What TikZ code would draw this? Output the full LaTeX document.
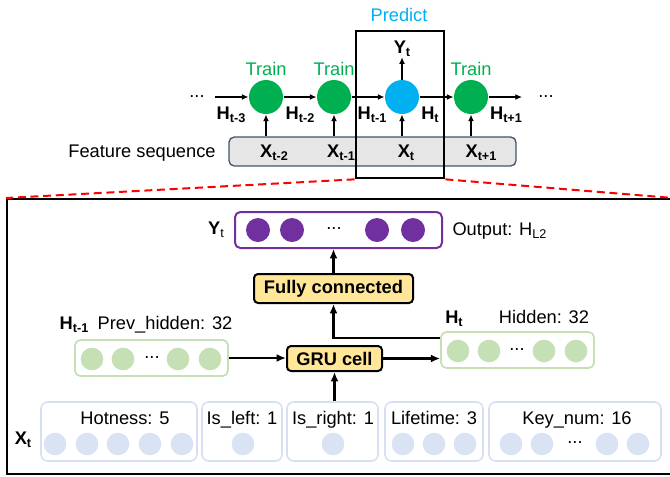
\documentclass[tikz,border=0pt]{standalone}
\usepackage{fontspec}
\setmainfont{Liberation Sans}
\usetikzlibrary{arrows.meta}

\definecolor{trainGreen}{RGB}{0,176,80}
\definecolor{predBlue}{RGB}{0,176,240}
\definecolor{outPurple}{RGB}{112,48,160}
\definecolor{hidGreen}{RGB}{197,224,180}
\definecolor{hidLine}{RGB}{197,224,180}
\definecolor{featBlue}{RGB}{218,227,243}
\definecolor{featLine}{RGB}{214,224,242}
\definecolor{opGold}{RGB}{255,230,153}
\definecolor{seqGray}{RGB}{231,230,230}
\definecolor{seqLine}{RGB}{68,84,106}

\newcommand{\bsub}[2]{\textbf{#1\raisebox{-2.7pt}{\fontsize{9.5}{10}\selectfont #2}}}
\newcommand{\nsub}[2]{#1\raisebox{-2.7pt}{\fontsize{9.5}{10}\selectfont #2}}

\tikzset{every picture/.style={line width=0.75pt},
	every node/.style={font=\fontsize{13.7}{16}\selectfont},
	txt/.style={anchor=base, inner sep=0pt},
	bigdot/.style={circle, minimum size=25.5pt, inner sep=0pt},
	trainnode/.style={bigdot, fill=trainGreen},
	predictnode/.style={bigdot, fill=predBlue},
	thinarrow/.style={line width=1pt, -{Latex[length=5pt,width=4.5pt]}},
	thickarrow/.style={line width=1.6pt, -{Latex[length=7pt,width=6pt]}},
	unit/.style={circle, minimum size=17pt, inner sep=0pt},
	outunit/.style={circle, minimum size=18pt, inner sep=0pt, fill=outPurple},
	hidunit/.style={unit, fill=hidGreen},
	featunit/.style={unit, fill=featBlue},
	layerbox/.style={rectangle, rounded corners=4pt, line width=1.3pt, minimum height=27pt, inner sep=0pt},
	opbox/.style={rectangle, rounded corners=3pt, draw=black, line width=1.5pt, fill=opGold, inner sep=0pt, font=\bfseries\fontsize{13.7}{16}\selectfont},
	featbox/.style={rectangle, rounded corners=5pt, draw=featLine, line width=1.2pt, minimum height=44.25pt, inner sep=0pt},
	zoomline/.style={red, line width=1.5pt, dash pattern=on 6pt off 3.5pt}}

\begin{document}
\begin{tikzpicture}[x=0.75pt,y=0.75pt,yscale=-1,xscale=1]
	\useasboundingbox (0,0) rectangle (670,476);

	%Shape: Rectangle (zoomed cell)
	\node[rectangle, draw=black, line width=1.5pt, minimum width=498.75pt, minimum height=206.25pt, inner sep=0pt] (main) at (339.5,336.5) {};

	%Shape: Rectangle (feature sequence)
	\node[rectangle, rounded corners=4pt, draw=seqLine, fill=seqGray, line width=1pt, minimum width=215.25pt, minimum height=21.75pt, inner sep=0pt] (seq) at (372.5,151.5) {};
	\node[txt] (seqlbl) at (142,157) {Feature sequence};

	%Shape: Circle (time steps)
	\node[trainnode] (c1) at (266,97) {};
	\node[trainnode] (c2) at (334,97) {};
	\node[predictnode] (c3) at (402,97) {};
	\node[trainnode] (c4) at (471,97) {};
	\node[txt, text=trainGreen] (tr1) at (266,75) {Train};
	\node[txt, text=trainGreen] (tr2) at (334,75) {Train};
	\node[txt, text=trainGreen] (tr4) at (471,75) {Train};
	\node[txt, text=predBlue] (prd) at (399,21) {Predict};

	%Shape: Rectangle (predict step)
	\node[rectangle, draw=black, line width=2pt, minimum width=66pt, minimum height=110.25pt, inner sep=0pt] (pred) at (400,104.5) {};

	%Straight Lines (hidden states)
	\node (dl) at (197,97) {...};
	\node (dr) at (546,97) {...};
	\coordinate (hl) at (215,97);
	\coordinate (hr) at (522,97);
	\draw[thinarrow] (hl) -- (c1);
	\draw[thinarrow] (c1) -- (c2);
	\draw[thinarrow] (c2) -- (c3);
	\draw[thinarrow] (c3) -- (c4);
	\draw[thinarrow] (c4) -- (hr);
	\draw[thinarrow] (c1 |- seq.north) -- (c1);
	\draw[thinarrow] (c2 |- seq.north) -- (c2);
	\draw[thinarrow] (c3 |- seq.north) -- (c3);
	\draw[thinarrow] (c4 |- seq.north) -- (c4);

	% Text Node
	\node[txt] (yt) at (402,53) {\bsub{Y}{t}};
	\draw[thinarrow] (c3.north) -- (c3.north |- yt.south);
	\node[txt] (h3) at (231,119) {\bsub{H}{t-3}};
	\node[txt] (h2) at (300,119) {\bsub{H}{t-2}};
	\node[txt] (h1) at (372,119) {\bsub{H}{t-1}};
	\node[txt] (h0) at (430,119) {\bsub{H}{t}};
	\node[txt] (h4) at (506,119) {\bsub{H}{t+1}};
	\node[txt] (x2) at (274,157) {\bsub{X}{t-2}};
	\node[txt] (x1) at (341,157) {\bsub{X}{t-1}};
	\node[txt] (x0) at (406,157) {\bsub{X}{t}};
	\node[txt] (x4) at (481,157) {\bsub{X}{t+1}};

	%Dashed Lines (zoom)
	\draw[zoomline] (pred.south west) -- (main.north west);
	\draw[zoomline] (pred.south east) -- (main.north east);

	%Shape: Output layer
	\node[layerbox, draw=outPurple, line width=1.5pt, minimum width=155.25pt] (outbox) at (338.5,230) {};
	\node[outunit] (o1) at (258,230) {};
	\node[outunit] (o2) at (292,230) {};
	\node (od) at (334,229) {...};
	\node[outunit] (o3) at (377,230) {};
	\node[outunit] (o4) at (413,230) {};
	\node[txt] (ylbl) at (216,234) {\nsub{\textbf{Y}}{t}};
	\node[txt, anchor=base west] (outlbl) at (452,235) {Output: \nsub{H}{L2}};

	%Shape: Operations
	\node[opbox, minimum width=119.25pt, minimum height=21.75pt] (fc) at (333.5,288.5) {Fully connected};
	\node[opbox, minimum width=71.25pt, minimum height=18.75pt] (gru) at (334.5,358.5) {GRU cell};

	%Shape: Previous hidden
	\node[layerbox, draw=hidLine, minimum width=114.75pt] (prevbox) at (151.5,358) {};
	\node[hidunit] (p1) at (92,359) {};
	\node[hidunit] (p2) at (123,359) {};
	\node (pd) at (152,358) {...};
	\node[hidunit] (p3) at (178,359) {};
	\node[hidunit] (p4) at (210,359) {};
	\node[txt] (hprev) at (74,329) {\bsub{H}{t-1}};
	\node[txt] (prevlbl) at (165,329) {Prev\_hidden: 32};

	%Shape: Hidden
	\node[layerbox, draw=hidLine, minimum width=114.75pt] (hidbox) at (517.5,350) {};
	\node[hidunit] (n1) at (458,351) {};
	\node[hidunit] (n2) at (489,351) {};
	\node (nd) at (517,350) {...};
	\node[hidunit] (n3) at (544,351) {};
	\node[hidunit] (n4) at (576,351) {};
	\node[txt] (hcur) at (454,323) {\bsub{H}{t}};
	\node[txt] (hidlbl) at (544,323) {Hidden: 32};

	%Shape: Input features
	\node[featbox, minimum width=117pt] (hotbox) at (119,431.5) {};
	\node[featbox, minimum width=60pt] (leftbox) at (242,431.5) {};
	\node[featbox, minimum width=68.25pt] (rightbox) at (332.5,431.5) {};
	\node[featbox, minimum width=73.5pt] (lifebox) at (434,431.5) {};
	\node[featbox, minimum width=129pt] (keybox) at (575,431.5) {};
	\node[txt] (hotlbl) at (125,424) {Hotness: 5};
	\node[txt] (leftlbl) at (242,424) {Is\_left: 1};
	\node[txt] (rightlbl) at (333,424) {Is\_right: 1};
	\node[txt] (lifelbl) at (434,424) {Lifetime: 3};
	\node[txt] (keylbl) at (577,424) {Key\_num: 16};
	\node[featunit] (f1) at (55,444) {};
	\node[featunit] (f2) at (87,444) {};
	\node[featunit] (f3) at (118,444) {};
	\node[featunit] (f4) at (150,444) {};
	\node[featunit] (f5) at (182,444) {};
	\node[featunit] (f6) at (243,444) {};
	\node[featunit] (f7) at (333,444) {};
	\node[featunit] (f8) at (403,444) {};
	\node[featunit] (f9) at (434,444) {};
	\node[featunit] (f10) at (465,444) {};
	\node[featunit] (f11) at (511,444) {};
	\node[featunit] (f12) at (542,444) {};
	\node (fd) at (575,443) {...};
	\node[featunit] (f13) at (607,444) {};
	\node[featunit] (f14) at (638,444) {};
	\node[txt] (xcur) at (23,444) {\bsub{X}{t}};

	%Straight Lines (cell flow)
	\draw[thickarrow] (prevbox.east) -- (prevbox.east -| gru.west);
	\draw[thickarrow] (gru.east) -- (gru.east -| hidbox.west);
	\draw[thickarrow] (rightbox.north -| gru.south) -- (gru.south);
	\draw[thickarrow] ([yshift=-9pt]hidbox.west) -| (fc.south);
	\draw[thickarrow] (fc.north) -- (fc.north |- outbox.south);

\end{tikzpicture}
\end{document}
